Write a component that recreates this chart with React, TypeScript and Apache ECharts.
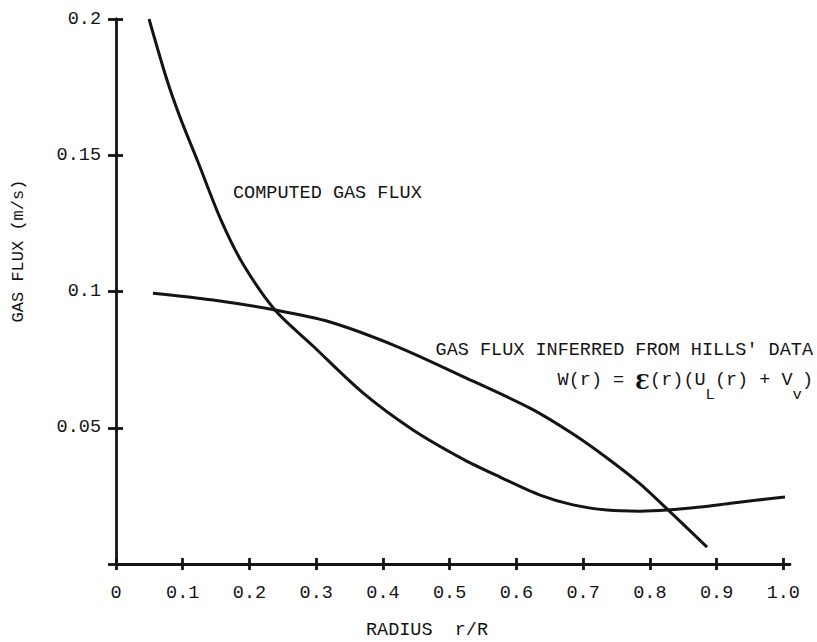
import React, { useEffect, useRef } from "react";
import * as echarts from "echarts";

// Computed gas flux curve (r/R, m/s)
const computedR = [0.0495, 0.0764, 0.0959, 0.1229, 0.1574, 0.1903, 0.2383, 0.2952, 0.3701, 0.4451, 0.52, 0.5755, 0.6354, 0.6849, 0.7358, 0.7853, 0.8257, 0.8752, 0.9246, 1.0025];
const computedV = [0.2, 0.1776, 0.164, 0.1475, 0.1262, 0.1101, 0.0932, 0.08, 0.0628, 0.0492, 0.0385, 0.0319, 0.0253, 0.0217, 0.0198, 0.0194, 0.0198, 0.0209, 0.0224, 0.0246];

// Gas flux inferred from Hills' data
const inferredR = [0.0554, 0.1454, 0.2383, 0.3207, 0.4211, 0.52, 0.6204, 0.6849, 0.7358, 0.7853, 0.8257, 0.8857];
const inferredV = [0.0994, 0.0969, 0.0932, 0.0888, 0.0798, 0.0688, 0.0572, 0.0477, 0.0389, 0.0294, 0.0202, 0.0062];

const xTicks = [0, 0.1, 0.2, 0.3, 0.4, 0.5, 0.6, 0.7, 0.8, 0.9, 1.0];
const yTicks = [0, 0.05, 0.1, 0.15, 0.2];
const yLabels = [0.05, 0.1, 0.15, 0.2];

const FONT = "'Liberation Mono', 'DejaVu Sans Mono', monospace";
const INK = "#141414";

export default function App() {
  const ref = useRef<HTMLDivElement>(null);
  useEffect(() => {
    if (!ref.current) return;
    const chart = echarts.init(ref.current, null, { renderer: "svg" });
    const fs = 18.5;
    const fEnd = 813;
    const txt = (x: number, y: number, text: string, extra: any = {}) => ({
      type: "text",
      x,
      y,
      style: {
        text,
        font: `${extra.fontSize || fs}px ${FONT}`,
        fill: INK,
        align: extra.align || "left",
        verticalAlign: "middle",
      },
    });
    const baseX = { type: "value", min: 0, max: 1.01, splitLine: { show: false } };
    const baseY = { type: "value", min: 0, max: 0.2, splitLine: { show: false } };
    const tickStyle = { color: INK, width: 2.8 };
    chart.setOption({
      animation: false,
      backgroundColor: "#ffffff",
      grid: { left: 116, right: 27, top: 19, bottom: 78 },
      xAxis: [
        {
          ...baseX,
          position: "bottom",
          axisLine: { show: true, lineStyle: { color: INK, width: 2.8 } },
          axisTick: { show: true, inside: false, length: 6, customValues: xTicks, lineStyle: tickStyle },
          axisLabel: {
            show: true,
            margin: 20,
            customValues: xTicks,
            color: INK,
            fontFamily: FONT,
            fontSize: fs,
            formatter: (v: number) => (v === 0 ? "0" : v.toFixed(1)),
          },
        },
        {
          ...baseX,
          position: "bottom",
          axisLine: { show: false },
          axisTick: { show: true, inside: true, length: 6, customValues: xTicks, lineStyle: tickStyle },
          axisLabel: { show: false },
        },
      ],
      yAxis: [
        {
          ...baseY,
          position: "left",
          axisLine: { show: true, lineStyle: { color: INK, width: 2.8 } },
          axisTick: { show: true, inside: false, length: 8, customValues: yTicks, lineStyle: tickStyle },
          axisLabel: {
            show: true,
            margin: 15,
            customValues: yLabels,
            color: INK,
            fontFamily: FONT,
            fontSize: fs,
          },
        },
        {
          ...baseY,
          position: "left",
          axisLine: { show: false },
          axisTick: { show: true, inside: true, length: 7, customValues: yTicks, lineStyle: tickStyle },
          axisLabel: { show: false },
        },
      ],
      series: [
        {
          name: "COMPUTED GAS FLUX",
          type: "line",
          xAxisIndex: 0,
          yAxisIndex: 0,
          smooth: 0.3,
          symbol: "none",
          lineStyle: { color: INK, width: 3 },
          data: computedR.map((r, i) => [r, computedV[i]]),
        },
        {
          name: "GAS FLUX INFERRED FROM HILLS' DATA",
          type: "line",
          xAxisIndex: 0,
          yAxisIndex: 0,
          smooth: 0.3,
          symbol: "none",
          lineStyle: { color: INK, width: 3 },
          data: inferredR.map((r, i) => [r, inferredV[i]]),
        },
      ],
      graphic: [
        txt(233, 193, "COMPUTED GAS FLUX"),
        txt(fEnd, 350, "GAS FLUX INFERRED FROM HILLS' DATA", { align: "right" }),
        {
          type: "text",
          x: fEnd,
          y: 371,
          style: {
            text: "{n|W(r) = }{e|Ɛ}{n|(r)(U}{s|L}{n|(r) + V}{s|v}{n|)}",
            align: "right",
            verticalAlign: "top",
            fill: INK,
            rich: {
              n: { font: `${fs}px ${FONT}`, fill: INK, lineHeight: 20, verticalAlign: "top" },
              e: { font: `bold ${fs + 2}px 'DejaVu Serif', serif`, fill: INK, lineHeight: 20, verticalAlign: "top" },
              s: { font: `${fs - 3}px ${FONT}`, fill: INK, lineHeight: 15, padding: [16, 0, 0, 0], verticalAlign: "top" },
            },
          },
        },
        txt(427, 630, "RADIUS  r/R", { align: "center" }),
        {
          type: "text",
          x: 18,
          y: 251,
          rotation: Math.PI / 2,
          style: { text: "GAS FLUX (m/s)", font: `17px ${FONT}`, fill: INK, align: "center", verticalAlign: "middle" },
        },
      ],
    });
    return () => chart.dispose();
  }, []);
  return (
    <div
      ref={ref}
      style={{ position: "fixed", left: 0, top: 0, width: 817, height: 642, background: "#fff" }}
    />
  );
}
